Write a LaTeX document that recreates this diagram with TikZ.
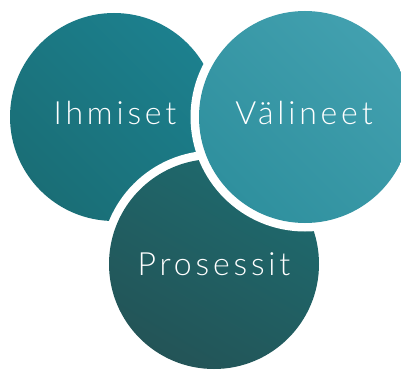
\documentclass[tikz,border=0pt]{standalone}
\usepackage{fontspec}
\newfontfamily\lblfont{Lato}[UprightFont={* Light},LetterSpace=12]
\definecolor{tealL1}{HTML}{1C808E}
\definecolor{tealL2}{HTML}{1A6E76}
\definecolor{tealR1}{HTML}{42A0AF}
\definecolor{tealR2}{HTML}{2F909E}
\definecolor{tealB1}{HTML}{1E6A6E}
\definecolor{tealB2}{HTML}{235457}
\tikzset{
  blob/.style={circle, inner sep=0pt},
  cutout/.style={preaction={draw=white, line width=17pt}},
  lbl/.style={inner sep=0pt, text=white, font=\lblfont\fontsize{32}{38}\selectfont}
}
\begin{document}
\begin{tikzpicture}[x=1pt, y=-1pt]
        \useasboundingbox (0,0) rectangle (401,369);

        % Three overlapping circles, each one lies over the one before
        \node[blob, minimum size=208pt, top color=tealL1, bottom color=tealL2, shading angle=-45] (ihmiset) at (114,117) {};
        \node[blob, cutout, minimum size=210pt, top color=tealB1, bottom color=tealB2, shading angle=-30] (prosessit) at (214,264) {};
        \node[blob, cutout, minimum size=212pt, top color=tealR1, bottom color=tealR2, shading angle=-45] (valineet) at (305,117) {};

        % Labels
        \foreach \name/\x/\y/\label in {ihmiset/115/113/Ihmiset, valineet/304/113/Välineet, prosessit/214/264/Prosessit} {
            \node[lbl] (\name-txt) at (\x,\y) {\label};
        }

\end{tikzpicture}
\end{document}
